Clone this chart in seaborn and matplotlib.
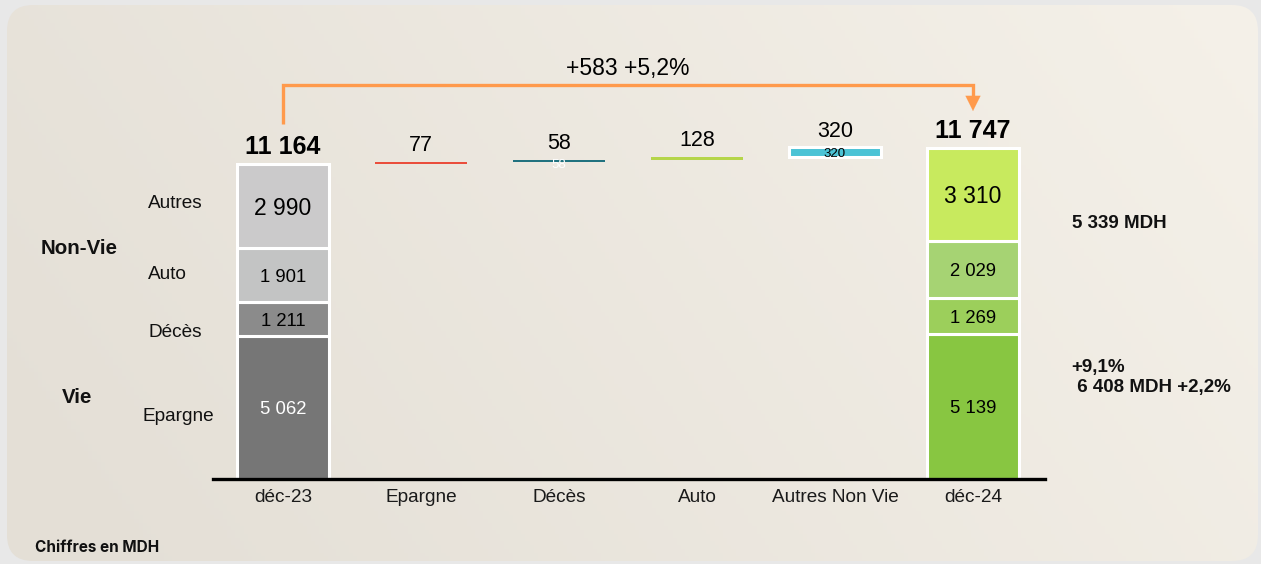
import numpy as np
import pandas as pd
import matplotlib
matplotlib.use("Agg")
import matplotlib.pyplot as plt
from matplotlib.patches import FancyBboxPatch
import seaborn as sns

# ---------------- data ----------------
categories = ["déc-23", "Epargne", "Décès", "Auto", "Autres Non Vie", "déc-24"]
segments = ["Epargne", "Décès", "Auto", "Autres"]
dec23 = [5062, 1211, 1901, 2990]
dec24 = [5139, 1269, 2029, 3310]
variations = [77, 58, 128, 320]
growth_label = "+583 +5,2%"
non_vie_label = "5 339 MDH"
vie_growth = "+9,1%"
vie_label = " 6 408 MDH +2,2%"
footnote = "Chiffres en MDH"

# ---------------- styles ----------------
col23 = ["#767676", "#8b8b8b", "#c3c4c4", "#cbcacb"]
col24 = ["#88c641", "#9ccf5b", "#a6d373", "#c8ea5e"]
col_var = ["#ea4e3c", "#21727f", "#b5d54a", "#4bc3d5"]
lab23_color = ["white", "black", "black", "black"]
seg_fs = [13.3, 13.3, 13.3, 16.5]
inner_color = [None, "white", None, "black"]
inner_off = [0, -1.2, 0, 0.5]
orange = "#ff9a4c"

sns.set_theme(style="white")
plt.rcParams["font.family"] = ["Liberation Sans", "DejaVu Sans"]

W, H, DPI = 1261, 564, 100
fig = plt.figure(figsize=(W / DPI, H / DPI), dpi=DPI, facecolor="#e8e8e8")

# background panel with gradient
ax_bg = fig.add_axes([0, 0, 1, 1], zorder=-10)
ax_bg.set_axis_off()
c0 = np.array([0xe4, 0xdf, 0xd6]) / 255
c1 = np.array([0xf5, 0xf1, 0xe9]) / 255
xx, yy = np.meshgrid(np.linspace(0, 1, 300), np.linspace(0, 1, 150))
t = np.clip(0.8 * xx + 0.25 * (1 - yy) - 0.05, 0, 1)
img = c0[None, None, :] * (1 - t[..., None]) + c1[None, None, :] * t[..., None]
im = ax_bg.imshow(img, extent=[0, 1, 0, 1], aspect="auto", origin="upper")
ax_bg.set_xlim(0, 1)
ax_bg.set_ylim(0, 1)
panel = FancyBboxPatch((7 / DPI, 3 / DPI), 1251 / DPI, 556 / DPI,
                       boxstyle="round,pad=0,rounding_size=0.26",
                       transform=fig.dpi_scale_trans, facecolor="none", edgecolor="none")
fig.add_artist(panel)
im.set_clip_path(panel)

# main axes
x_left, x_right, y_base, y_top = 213, 1045, 479, 20
ax = fig.add_axes([x_left / W, (H - y_base) / H, (x_right - x_left) / W, (y_base - y_top) / H])
ax.set_facecolor("none")

bw = 0.665
lw_edge = 2.2
dy = -1.6  # visual centring offset (points)

def bar(cat, val, bottom, color, lw, ec="white"):
    df = pd.DataFrame({"cat": [cat], "val": [val]})
    sns.barplot(data=df, x="cat", y="val", order=categories, color=color,
                saturation=1, width=bw, bottom=bottom, edgecolor=ec,
                linewidth=lw, errorbar=None, ax=ax)

def label(x, y, s, off=0.0, **kw):
    ax.annotate(s, xy=(x, y), xytext=(0, off + dy), textcoords="offset points",
                ha="center", va="center", annotation_clip=False, **kw)

# starting stacked bar
b = 0
for v, c, tc, fs in zip(dec23, col23, lab23_color, seg_fs):
    bar(categories[0], v, b, c, lw_edge)
    label(0, b + v / 2, f"{v:,}".replace(",", " "), color=tc, fontsize=fs)
    b += v
total23 = b

# variations (floating)
b = total23
for i, (v, c, ic, io) in enumerate(zip(variations, col_var, inner_color, inner_off)):
    xi = i + 1
    last = i == len(variations) - 1
    bar(categories[xi], v, b, c, lw_edge if last else 0, ec="white" if last else "none")
    label(xi, b + v, f"{v}", off=13.3, fontsize=15.5, color="black")
    if ic is not None:
        label(xi, b + v / 2, f"{v}", off=io, fontsize=9.5, color=ic, zorder=5)
    b += v

# ending stacked bar
b = 0
for v, c, fs in zip(dec24, col24, seg_fs):
    bar(categories[-1], v, b, c, lw_edge)
    label(len(categories) - 1, b + v / 2, f"{v:,}".replace(",", " "), color="black", fontsize=fs)
    b += v
total24 = b

for xi, tot in [(0, total23), (len(categories) - 1, total24)]:
    label(xi, tot, f"{tot:,}".replace(",", " "), off=13.7, fontsize=18,
          fontweight="bold", color="black")

# scales
px_per_unit = (y_base - 147.5) / total24
ax.set_xlim(-70 / 138, len(categories) - 1 + 72 / 138)
ax.set_ylim(0, (y_base - y_top) / px_per_unit)

def ypx(p):
    return (y_base - p) / px_per_unit

# orange bracket arrow
y_line = ypx(85)
ax.plot([0, 0, len(categories) - 1, len(categories) - 1],
        [ypx(124), y_line, y_line, ypx(99)], color=orange, lw=2.4,
        solid_capstyle="butt", solid_joinstyle="miter", clip_on=False)
ax.annotate("", xy=(len(categories) - 1, ypx(111)), xytext=(len(categories) - 1, ypx(98)),
            arrowprops=dict(arrowstyle="-|>,head_length=0.9,head_width=0.45",
                            color=orange, lw=0.1, shrinkA=0, shrinkB=0),
            annotation_clip=False)
label((len(categories) - 1) / 2, ypx(66.5), growth_label, fontsize=16.5, color="black")

# axes styling
sns.despine(ax=ax, left=True, top=True, right=True)
ax.spines["bottom"].set_color("black")
ax.spines["bottom"].set_linewidth(2.4)
ax.set_yticks([])
ax.set_xlabel("")
ax.set_ylabel("")
ax.tick_params(axis="x", length=0, pad=7, labelsize=13.7, labelcolor="#1a1a1a")
ax.grid(False)

# side labels (figure pixel coords)
def ftext(xp, yp, s, **kw):
    fig.text(xp / W, 1 - (yp + 2.2) / H, s, va="center", **kw)

for name, yp, xp in zip(segments, [414, 330, 272.5, 201.5], [143, 148, 148, 148]):
    ftext(xp, yp, name, ha="left", fontsize=13.7, color="#111111")
ftext(40.5, 246, "Non-Vie", ha="left", fontsize=14.8, fontweight="bold", color="#111111")
ftext(62, 395, "Vie", ha="left", fontsize=14.8, fontweight="bold", color="#111111")
ftext(1072, 221.5, non_vie_label, ha="left", fontsize=13.5, fontweight="bold", color="#111111")
ftext(1071.5, 365.5, vie_growth, ha="left", fontsize=13.5, fontweight="bold", color="#111111")
ftext(1071.5, 385.5, vie_label, ha="left", fontsize=13.5, fontweight="bold", color="#111111")
ftext(35, 545.5, footnote, ha="left", fontsize=11, fontweight="bold", color="#111111",
      family=["Inter", "DejaVu Sans"])

fig.savefig("out.png", dpi=DPI, facecolor=fig.get_facecolor())
